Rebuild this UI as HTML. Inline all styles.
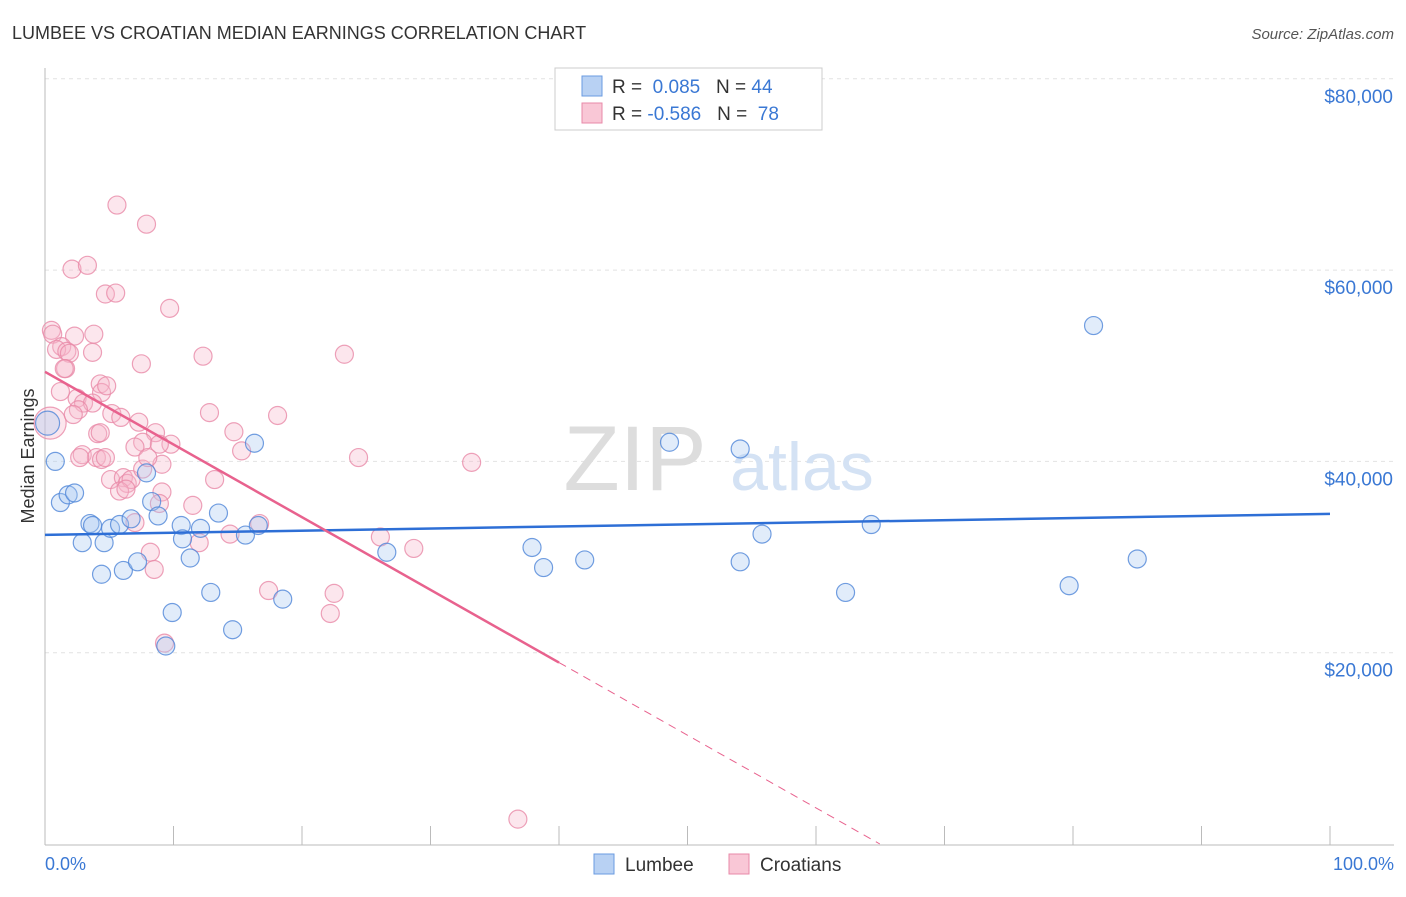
<!DOCTYPE html>
<html><head><meta charset="utf-8"><style>
body{margin:0;background:#fff;font-family:"Liberation Sans",sans-serif;}
svg text{font-family:"Liberation Sans",sans-serif;}
</style></head><body>
<svg width="1406" height="892">
<text x="12" y="39" font-size="18" fill="#333">LUMBEE VS CROATIAN MEDIAN EARNINGS CORRELATION CHART</text>
<text x="1394" y="39" font-size="15" fill="#555" font-style="italic" text-anchor="end">Source: ZipAtlas.com</text>
<g id="grid"></g>
<g><text x="635" y="490" font-size="92" fill="#ddd" font-family="Liberation Serif" text-anchor="middle">ZIP</text><text x="802" y="490" font-size="68" fill="#d4e2f4" text-anchor="middle">atlas</text></g>
<line x1="45" y1="68" x2="45" y2="845" stroke="#bbb"/>
<line x1="45" y1="845" x2="1394" y2="845" stroke="#bbb"/>
<g id="xticks"></g>
<text x="34" y="456" font-size="18" fill="#333" text-anchor="middle" transform="rotate(-90 34 456)">Median Earnings</text>
<text x="45" y="870" font-size="18" fill="#3a78d4">0.0%</text>
<text x="1394" y="870" font-size="18" fill="#3a78d4" text-anchor="end">100.0%</text>
<g id="pts"></g>
<g id="trend"></g>
<g>
<rect x="555" y="68" width="267" height="62" fill="#fff" stroke="#ccc"/>
<rect x="582" y="76" width="20" height="20" fill="#b8d1f3" stroke="#6a9be0"/>
<rect x="582" y="103" width="20" height="20" fill="#f9c7d6" stroke="#e88aa8"/>
<text x="612" y="93" font-size="19" fill="#333">R = <tspan fill="#3a78d4">&#160;0.085</tspan>&#160;&#160;&#160;N = <tspan fill="#3a78d4">44</tspan></text>
<text x="612" y="120" font-size="19" fill="#333">R = <tspan fill="#3a78d4">-0.586</tspan>&#160;&#160;&#160;N = <tspan fill="#3a78d4">&#160;78</tspan></text>
</g>
<g>
<rect x="594" y="854" width="20" height="20" fill="#b8d1f3" stroke="#6a9be0"/>
<text x="625" y="871" font-size="19" fill="#333">Lumbee</text>
<rect x="729" y="854" width="20" height="20" fill="#f9c7d6" stroke="#e88aa8"/>
<text x="760" y="871" font-size="19" fill="#333">Croatians</text>
</g>
</svg>
<script>
const yTicks=[20000,40000,60000,80000];
const yTickLabels=["$20,000","$40,000","$60,000","$80,000"];
const xTicks=[0,10,20,30,40,50,60,70,80,90,100];
const lumbeeX=[0.8,1.2,1.8,2.3,2.9,3.5,3.7,4.4,4.6,5.1,5.8,6.1,6.7,7.2,7.9,8.3,8.8,9.4,9.9,10.6,10.7,11.3,12.1,12.9,13.5,14.6,15.6,16.3,16.6,18.5,26.6,37.9,38.8,42.0,48.6,54.1,54.1,55.8,62.3,64.3,79.7,81.6,85.0,0.2];
const lumbeeY=[40000,35700,36500,36700,31500,33500,33300,28200,31500,33000,33400,28600,34000,29500,38800,35800,34300,20700,24200,33300,31900,29900,33000,26300,34600,22400,32300,41900,33300,25600,30500,31000,28900,29700,42000,41300,29500,32400,26300,33400,27000,54200,29800,44000];
const croatX=[5.6,7.9,2.1,3.3,4.7,5.5,9.7,0.5,0.6,2.3,3.8,1.3,0.9,1.7,3.7,1.9,12.3,23.3,7.5,1.6,1.5,4.3,4.4,2.5,3.0,3.7,2.6,5.2,12.8,18.1,5.9,7.3,14.7,4.1,8.6,9.8,7.6,7.0,8.9,2.9,4.0,4.4,15.3,24.4,33.2,5.1,6.1,6.4,6.7,9.1,5.8,6.3,9.1,11.5,8.9,14.4,12.0,16.7,7.0,8.2,8.5,26.1,28.7,17.4,22.5,22.2,9.3,36.8,0.4,1.2,2.2,4.7,4.3,7.6,8.0,2.7,13.2,4.8];
const croatY=[66800,64800,60100,60500,57500,57600,56000,53700,53300,53100,53300,52000,51700,51500,51400,51300,51000,51200,50200,49700,49700,48100,47200,46600,46100,46100,45400,45000,45100,44800,44600,44100,43100,42900,43000,41800,42000,41500,41800,40700,40400,40200,41100,40400,39900,38100,38300,37700,38100,39700,36900,37100,36800,35400,35600,32400,31500,33500,33600,30500,28700,32100,30900,26500,26200,24100,21000,2600,44000,47300,44900,40400,43000,39200,40400,40400,38100,47900];
const NS="http://www.w3.org/2000/svg";
const X=v=>45+v/100*1285, Y=v=>844-v/20000*191.3;
const grid=document.getElementById('grid');
yTicks.forEach((t,i)=>{
 const l=document.createElementNS(NS,'line');
 
 
 l.setAttribute('x1',45);l.setAttribute('x2',1394);l.setAttribute('y1',Y(t));l.setAttribute('y2',Y(t));
 l.setAttribute('stroke','#e2e2e2');l.setAttribute('stroke-dasharray','4,4');grid.appendChild(l);
 const tx=document.createElementNS(NS,'text');
 
 
 tx.setAttribute('x',1393);tx.setAttribute('y',Y(t)+24);tx.setAttribute('text-anchor','end');
 tx.setAttribute('font-size','19');tx.setAttribute('fill','#3a78d4');tx.textContent=yTickLabels[i];grid.appendChild(tx);
});
const xt=document.getElementById('xticks');
xTicks.forEach(t=>{
 const l=document.createElementNS(NS,'line');
 
 
 l.setAttribute('x1',X(t));l.setAttribute('x2',X(t));l.setAttribute('y1',826);l.setAttribute('y2',845);
 l.setAttribute('stroke','#bbb');xt.appendChild(l);
});
const pts=document.getElementById('pts');
function dot(x,y,f,s,r,name){
 const c=document.createElementNS(NS,'circle');
 
 
 c.setAttribute('cx',X(x));c.setAttribute('cy',Y(y));c.setAttribute('r',r);
 c.setAttribute('fill',f);c.setAttribute('fill-opacity','0.35');c.setAttribute('stroke',s);c.setAttribute('stroke-opacity','0.8');c.setAttribute('stroke-width','1.2');
 pts.appendChild(c);
}
croatX.forEach((x,i)=>dot(x,croatY[i],'#f6b6ca','#e98aa8',(i==68?16:9),'croatian-point'));
lumbeeX.forEach((x,i)=>dot(x,lumbeeY[i],'#a9c8f0','#4f86d8',(i==43?12:9),'lumbee-point'));
function fit(xs,ys){const n=xs.length;let mx=0,my=0;xs.forEach((x,i)=>{mx+=x;my+=ys[i];});mx/=n;my/=n;let sxy=0,sxx=0;xs.forEach((x,i)=>{sxy+=(x-mx)*(ys[i]-my);sxx+=(x-mx)**2;});const b=sxy/sxx;return [my-b*mx,b];}
const tr=document.getElementById('trend');
function line(x1,x2,ab,col,dash,name){
 const l=document.createElementNS(NS,'line');
 
 
 l.setAttribute('x1',X(x1));l.setAttribute('x2',X(x2));l.setAttribute('y1',Y(ab[0]+ab[1]*x1));l.setAttribute('y2',Y(ab[0]+ab[1]*x2));
 l.setAttribute('stroke',col);l.setAttribute('stroke-width',dash?1:2.5);if(dash)l.setAttribute('stroke-dasharray','8,6');
 tr.appendChild(l);
}
const lb=fit(lumbeeX,lumbeeY), cb=fit(croatX,croatY);
line(0,100,lb,'#2e6fd6',false,'lumbee-trend-line');
line(0,40,cb,'#e8628e',false,'croatian-trend-line');
const xz=Math.min(100,-cb[0]/cb[1]);
line(40,xz,cb,'#e8628e',true,'croatian-trend-extension');
</script>
</body></html>
